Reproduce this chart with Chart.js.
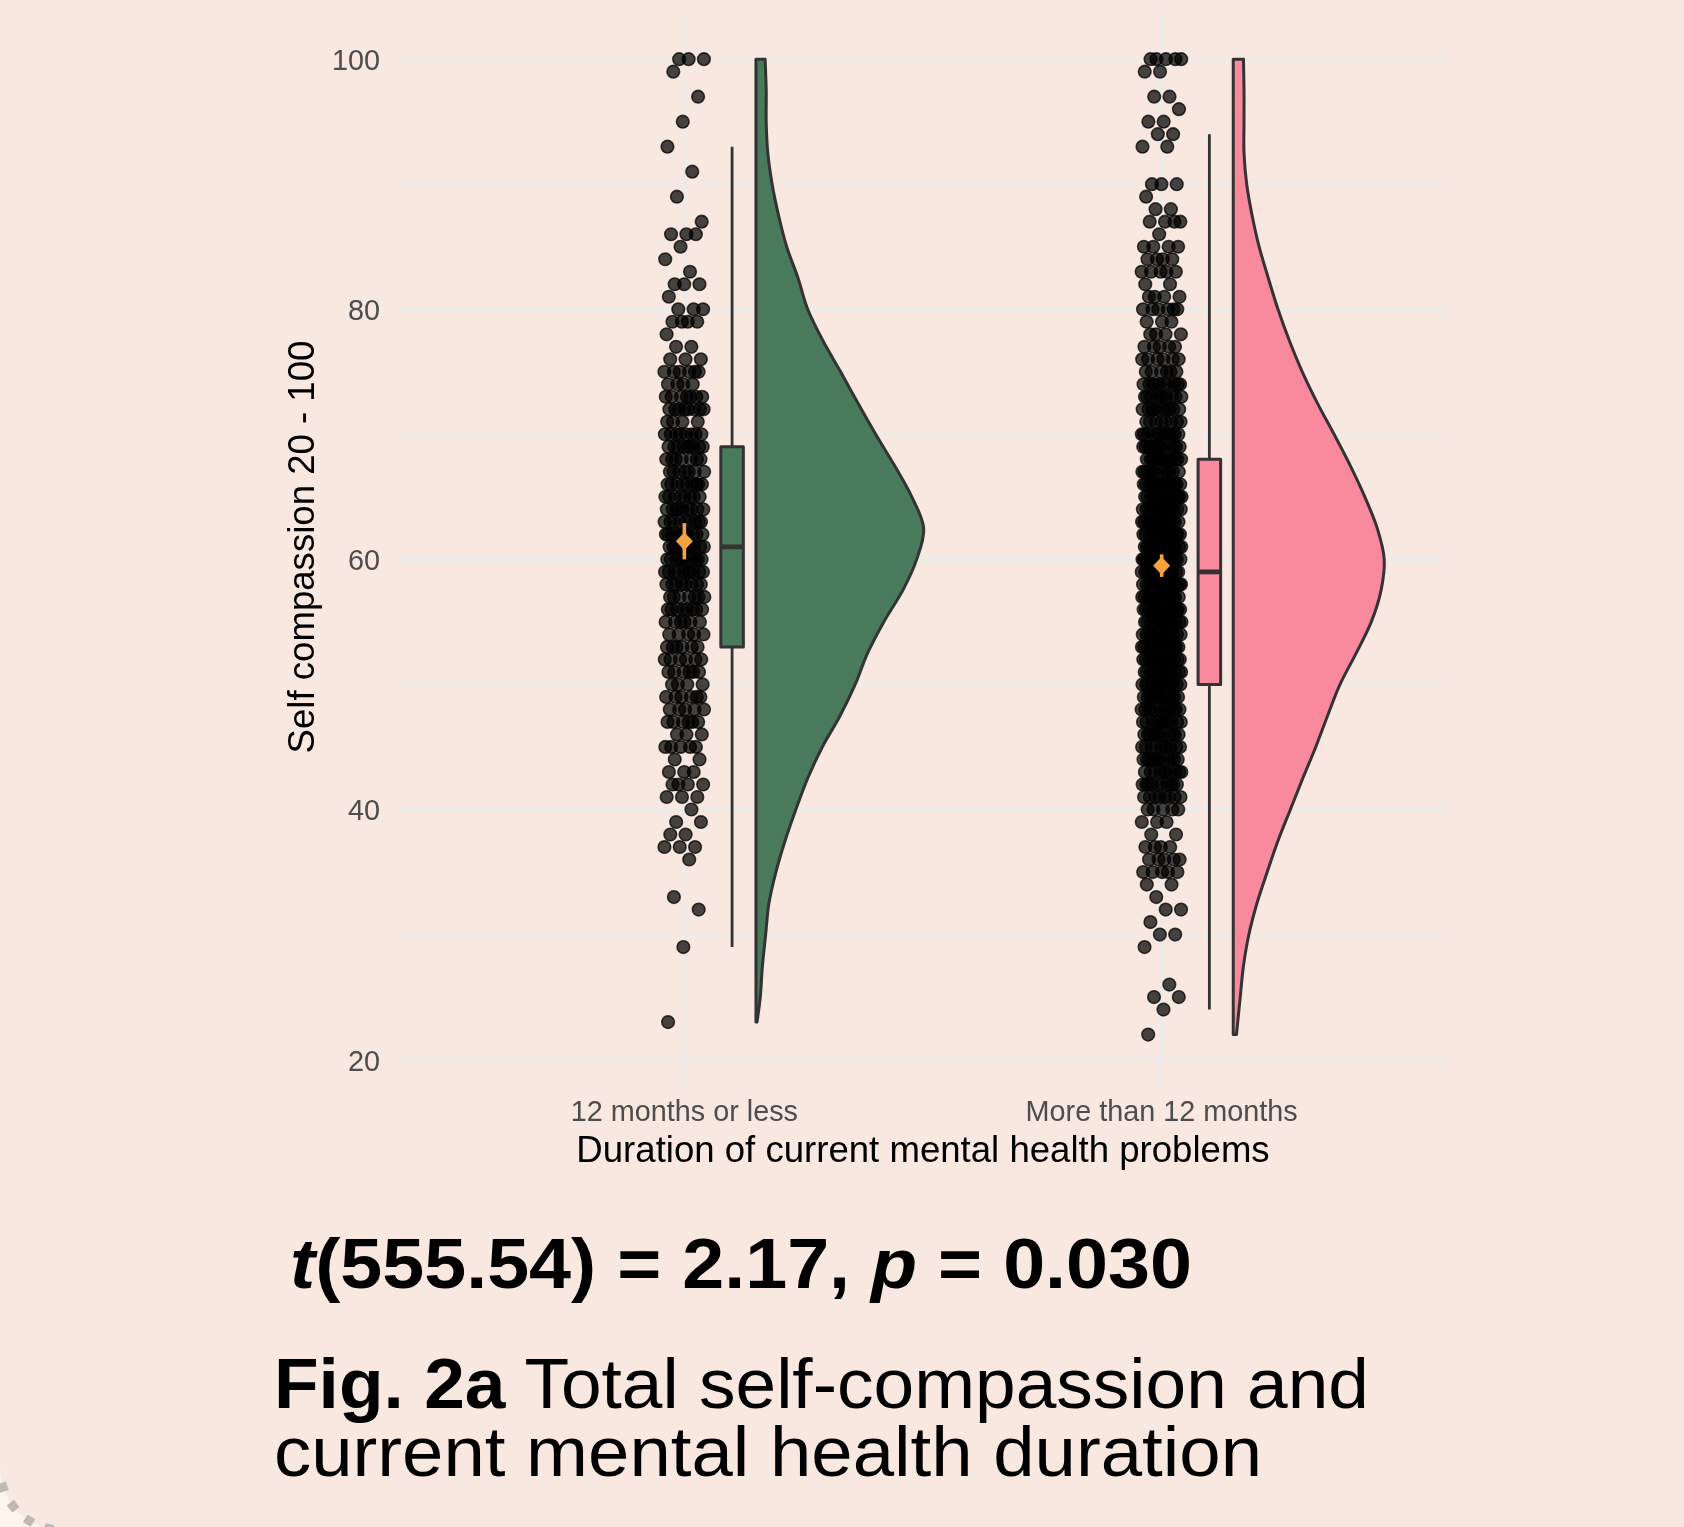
<!DOCTYPE html>
<html>
<head>
<meta charset="utf-8">
<title>Self-compassion by duration of mental health problems</title>
<script src="https://cdn.jsdelivr.net/npm/chart.js@4.4.1/dist/chart.umd.min.js"></script>
<style>
  html, body { margin: 0; padding: 0; }
  body {
    width: 1684px; height: 1527px; position: relative; overflow: hidden;
    background: #F8E8E0;
    font-family: 'Liberation Sans', Arial, Helvetica, sans-serif;
  }
  #chart { position: absolute; left: 0; top: 0; }
  #corner { position: absolute; left: 0; top: 1397px; }
  .line {
    position: absolute; white-space: nowrap; line-height: 1; color: #000;
    transform-origin: 0 0;
  }
  #stat { left: 290px; top: 1228px; font-size: 71px; font-weight: 700; }
  #cap1 { left: 274px; top: 1349px; font-size: 70.5px; }
  #cap2 { left: 274px; top: 1417px; font-size: 70.5px; }
</style>
</head>
<body>
<canvas id="chart" width="1684" height="1180"></canvas>
<canvas id="corner" width="130" height="130"></canvas>
<div class="line" id="stat" data-width="902"><i>t</i>(555.54) = 2.17, <i>p</i> = 0.030</div>
<div class="line" id="cap1" data-width="1095"><b>Fig. 2a</b> Total self-compassion and</div>
<div class="line" id="cap2" data-width="988">current mental health duration</div>

<script>
// ---- data -------------------------------------------------------------
const categories = ['12 months or less', 'More than 12 months'];
const xTitle = 'Duration of current mental health problems';
const yTitle = 'Self compassion 20 - 100';

const yTickValues = [20, 30, 40, 50, 60, 70, 80, 90, 100];
const yTickLabels = ['20', '', '40', '', '60', '', '80', '', '100'];

// observed scores and number of respondents at each score
const scoreLevels1 = [100, 99, 97, 95, 93, 91, 89, 87, 86, 85, 84, 83, 82, 81, 80, 79, 78, 77, 76, 75,
  74, 73, 72, 71, 70, 69, 68, 67, 66, 65, 64, 63, 62, 61, 60, 59, 58, 57, 56, 55, 54, 53, 52, 51, 50,
  49, 48, 47, 46, 45, 44, 43, 42, 41, 40, 39, 38, 37, 36, 33, 32, 29, 23];
const scoreCounts1 = [3, 1, 1, 1, 1, 1, 1, 1, 3, 1, 1, 1, 3, 1, 3, 4, 1, 2, 3, 6,
  4, 7, 8, 4, 8, 9, 7, 7, 9, 8, 9, 9, 10, 10, 10, 10, 8, 7, 8, 6, 5, 6, 6, 6, 4,
  6, 5, 6, 3, 5, 2, 3, 4, 3, 1, 2, 2, 3, 1, 1, 1, 1, 1];

const scoreLevels2 = [100, 99, 97, 96, 95, 94, 93, 90, 89, 88, 87, 86, 85, 84, 83, 82, 81, 80, 79, 78,
  77, 76, 75, 74, 73, 72, 71, 70, 69, 68, 67, 66, 65, 64, 63, 62, 61, 60, 59, 58, 57, 56, 55, 54, 53,
  52, 51, 50, 49, 48, 47, 46, 45, 44, 43, 42, 41, 40, 39, 38, 37, 36, 35, 34, 33, 32, 31, 30, 29, 26,
  25, 24, 22];
const scoreCounts2 = [5, 2, 2, 1, 2, 2, 2, 3, 1, 2, 4, 1, 4, 4, 5, 2, 4, 6, 3, 4,
  5, 6, 6, 10, 10, 10, 8, 12, 12, 12, 11, 13, 14, 14, 14, 15, 15, 15, 15, 15, 14, 14, 14, 14, 14,
  13, 13, 13, 12, 12, 11, 11, 10, 11, 10, 10, 8, 5, 3, 2, 4, 5, 5, 2, 1, 2, 1, 2, 1, 1,
  2, 1, 1];

// kernel density estimates (half violins)
const densityLevels1 = [100, 97.5, 95, 92.5, 90, 87.5, 85, 82.5, 80, 77.5, 75, 72.5, 70, 67.5, 65, 62.5,
  60, 57.5, 55, 52.5, 50, 47.5, 45, 42.5, 40, 37.5, 35, 32.5, 30, 27.5, 25, 23];
const density1 = [0.0017, 0.0019, 0.0019, 0.0022, 0.0030, 0.0042, 0.0057, 0.0078, 0.0096, 0.0124, 0.0157,
  0.0189, 0.0222, 0.0257, 0.0289, 0.0311, 0.0298, 0.0272, 0.0237, 0.0207, 0.0184, 0.0156, 0.0123,
  0.0096, 0.0074, 0.0054, 0.0037, 0.0024, 0.0018, 0.0012, 0.0008, 0.0002];

const densityLevels2 = [100, 97.5, 95, 92.5, 90, 87.5, 85, 82.5, 80, 77.5, 75, 72.5, 70, 67.5, 65, 62.5,
  60, 57.5, 55, 52.5, 50, 47.5, 45, 42.5, 40, 37.5, 35, 32.5, 30, 27.5, 25, 22];
const density2 = [0.0019, 0.0020, 0.0020, 0.0020, 0.0025, 0.0035, 0.0048, 0.0065, 0.0083, 0.0104, 0.0128,
  0.0156, 0.0187, 0.0217, 0.0244, 0.0267, 0.0280, 0.0274, 0.0256, 0.0228, 0.0198, 0.0175, 0.0153,
  0.0129, 0.0106, 0.0083, 0.0063, 0.0044, 0.0029, 0.0019, 0.0013, 0.0006];

// box plot summaries
const boxMin    = [29, 24];
const boxQ1     = [53, 50];
const boxMedian = [61, 59];
const boxQ3     = [69, 68];
const boxMax    = [93, 94];

// mean with 95% confidence interval
const meanScore = [61.45, 59.5];
const ciLower   = [60.0, 58.6];
const ciUpper   = [62.9, 60.4];

// ---- styling ------------------------------------------------------------
const FONT = 'Liberation Sans, Arial, Helvetica, sans-serif';
const groupFill = ['#4A7A5C', '#F98A9D'];
const outline = '#333333';
const meanColor = '#F5A33E';
const JITTER = 0.042;         // half-width of the jitter band (category units)
const BOX_OFFSET = 0.1;       // box plot sits right of the points
const BOX_HALF = 0.0236;
const VIOLIN_OFFSET = 0.15;   // half violin baseline
const VIOLIN_SCALE = 11.3;    // density -> category units

// spread tied scores horizontally across the jitter band
function jitteredPoints(levels, counts, pos) {
  const pts = [];
  let k = 0;
  levels.forEach((score, i) => {
    for (let j = 0; j < counts[i]; j++) {
      const u = (k * 0.6180339887 + 0.37) % 1;
      pts.push({ x: pos + (u - 0.5) * 2 * JITTER, y: score });
      k++;
    }
  });
  return pts;
}

const groups = [
  { levels: densityLevels1, density: density1 },
  { levels: densityLevels2, density: density2 }
];

function smoothPath(ctx, pts) {
  for (let i = 0; i < pts.length - 1; i++) {
    const p0 = pts[i - 1] || pts[i];
    const p1 = pts[i];
    const p2 = pts[i + 1];
    const p3 = pts[i + 2] || p2;
    ctx.bezierCurveTo(
      p1.x + (p2.x - p0.x) / 6, p1.y + (p2.y - p0.y) / 6,
      p2.x - (p3.x - p1.x) / 6, p2.y - (p3.y - p1.y) / 6,
      p2.x, p2.y);
  }
}

// draws the half violins, box plots and mean markers through the chart scales
const raincloud = {
  id: 'raincloud',
  afterDatasetsDraw(chart) {
    const { ctx, scales: { x, y } } = chart;
    ctx.save();
    ctx.lineJoin = 'round';
    ctx.lineCap = 'butt';

    groups.forEach((g, gi) => {
      const pos = gi + 1;

      // half violin
      const base = x.getPixelForValue(pos + VIOLIN_OFFSET);
      const edge = g.levels.map((lv, i) => ({
        x: x.getPixelForValue(pos + VIOLIN_OFFSET + g.density[i] * VIOLIN_SCALE),
        y: y.getPixelForValue(lv)
      }));
      ctx.beginPath();
      ctx.moveTo(base, edge[0].y);
      ctx.lineTo(edge[0].x, edge[0].y);
      smoothPath(ctx, edge);
      ctx.lineTo(base, edge[edge.length - 1].y);
      ctx.closePath();
      ctx.fillStyle = groupFill[gi];
      ctx.fill();
      ctx.strokeStyle = outline;
      ctx.lineWidth = 3;
      ctx.stroke();

      // box plot
      const bx = x.getPixelForValue(pos + BOX_OFFSET);
      const hw = x.getPixelForValue(pos + BOX_OFFSET + BOX_HALF) - bx;
      const yMin = y.getPixelForValue(boxMin[gi]);
      const yQ1 = y.getPixelForValue(boxQ1[gi]);
      const yMed = y.getPixelForValue(boxMedian[gi]);
      const yQ3 = y.getPixelForValue(boxQ3[gi]);
      const yMax = y.getPixelForValue(boxMax[gi]);
      ctx.lineWidth = 2.8;
      ctx.strokeStyle = outline;
      ctx.beginPath();
      ctx.moveTo(bx, yMax); ctx.lineTo(bx, yQ3);
      ctx.moveTo(bx, yQ1); ctx.lineTo(bx, yMin);
      ctx.stroke();
      ctx.fillStyle = groupFill[gi];
      ctx.fillRect(bx - hw, yQ3, hw * 2, yQ1 - yQ3);
      ctx.lineWidth = 3;
      ctx.strokeRect(bx - hw, yQ3, hw * 2, yQ1 - yQ3);
      ctx.lineWidth = 4.8;
      ctx.beginPath();
      ctx.moveTo(bx - hw, yMed); ctx.lineTo(bx + hw, yMed);
      ctx.stroke();

      // mean and confidence interval
      const mx = x.getPixelForValue(pos);
      const my = y.getPixelForValue(meanScore[gi]);
      ctx.strokeStyle = meanColor;
      ctx.lineWidth = 3.6;
      ctx.beginPath();
      ctx.moveTo(mx, y.getPixelForValue(ciUpper[gi]));
      ctx.lineTo(mx, y.getPixelForValue(ciLower[gi]));
      ctx.stroke();
      ctx.fillStyle = meanColor;
      ctx.beginPath();
      ctx.moveTo(mx, my - 9);
      ctx.lineTo(mx + 8.5, my);
      ctx.lineTo(mx, my + 9);
      ctx.lineTo(mx - 8.5, my);
      ctx.closePath();
      ctx.fill();
    });
    ctx.restore();
  }
};

const pointStyle = {
  pointRadius: 6.3,
  pointHoverRadius: 6.3,
  pointBorderWidth: 1.6,
  pointBackgroundColor: 'rgba(0,0,0,0.72)',
  pointBorderColor: 'rgba(0,0,0,0.74)'
};

new Chart(document.getElementById('chart'), {
  type: 'scatter',
  data: {
    datasets: [
      Object.assign({ label: categories[0], data: jitteredPoints(scoreLevels1, scoreCounts1, 1) }, pointStyle),
      Object.assign({ label: categories[1], data: jitteredPoints(scoreLevels2, scoreCounts2, 2) }, pointStyle)
    ]
  },
  options: {
    responsive: false,
    animation: false,
    devicePixelRatio: 1,
    events: [],
    layout: { padding: { left: 260, top: 11, right: 236, bottom: 2 } },
    plugins: { legend: { display: false }, tooltip: { enabled: false } },
    scales: {
      x: {
        type: 'linear', min: 0.4, max: 2.6, bounds: 'data',
        afterBuildTicks: s => { s.ticks = categories.map((c, i) => ({ value: i + 1 })); },
        afterFit: s => { s.height = 95; s.paddingLeft = 0; s.paddingRight = 0; },
        grid: { color: '#EBEBEB', lineWidth: 2.8, drawTicks: false },
        border: { display: false },
        ticks: {
          padding: 12.5, color: '#4D4D4D', autoSkip: false, maxRotation: 0,
          font: { family: FONT, size: 28.8 },
          callback: (v, i) => categories[i]
        },
        title: {
          display: true, text: xTitle, color: '#000',
          font: { family: FONT, size: 36.6 }, padding: { top: 0, bottom: 4 }
        }
      },
      y: {
        type: 'linear', min: 18.13, max: 103.85, bounds: 'data',
        afterBuildTicks: s => { s.ticks = yTickValues.map(v => ({ value: v })); },
        afterFit: s => { s.width = 138; s.paddingTop = 0; s.paddingBottom = 0; },
        grid: {
          color: '#EBEBEB', drawTicks: false,
          lineWidth: c => (c.tick && c.tick.value % 20 === 0) ? 2.8 : 1.4
        },
        border: { display: false },
        ticks: {
          padding: 18, labelOffset: 3, color: '#4D4D4D', autoSkip: false,
          font: { family: FONT, size: 28.8 },
          callback: (v, i) => yTickLabels[i]
        },
        title: {
          display: true, text: yTitle, color: '#000',
          font: { family: FONT, size: 36.6 }, padding: { top: 22, bottom: 0 }
        }
      }
    }
  },
  plugins: [raincloud]
});

// dotted corner ornament
(function drawCorner() {
  const c = document.getElementById('corner').getContext('2d');
  const cx = 62, cy = 71, r = 62;
  c.fillStyle = '#FDF4EC';
  c.fillRect(0, cy, cx, 130 - cy);
  c.fillStyle = '#F8E8E0';
  c.beginPath(); c.arc(cx, cy, r, 0, Math.PI * 2); c.fill();
  c.fillStyle = '#BFB8B3';
  [102, 122, 142, 162].forEach(deg => {
    const a = deg * Math.PI / 180;
    c.save();
    c.translate(cx + r * Math.cos(a), cy + r * Math.sin(a));
    c.rotate(a);
    c.fillRect(-4.5, -4.5, 9, 9);
    c.restore();
  });
})();

// fit caption lines to their set widths
function fitLines() {
  document.querySelectorAll('.line').forEach(el => {
    el.style.transform = 'none';
    const w = el.getBoundingClientRect().width;
    el.style.transform = 'scaleX(' + (Number(el.dataset.width) / w) + ')';
  });
}
fitLines();
if (document.fonts && document.fonts.ready) document.fonts.ready.then(fitLines);
</script>
</body>
</html>
